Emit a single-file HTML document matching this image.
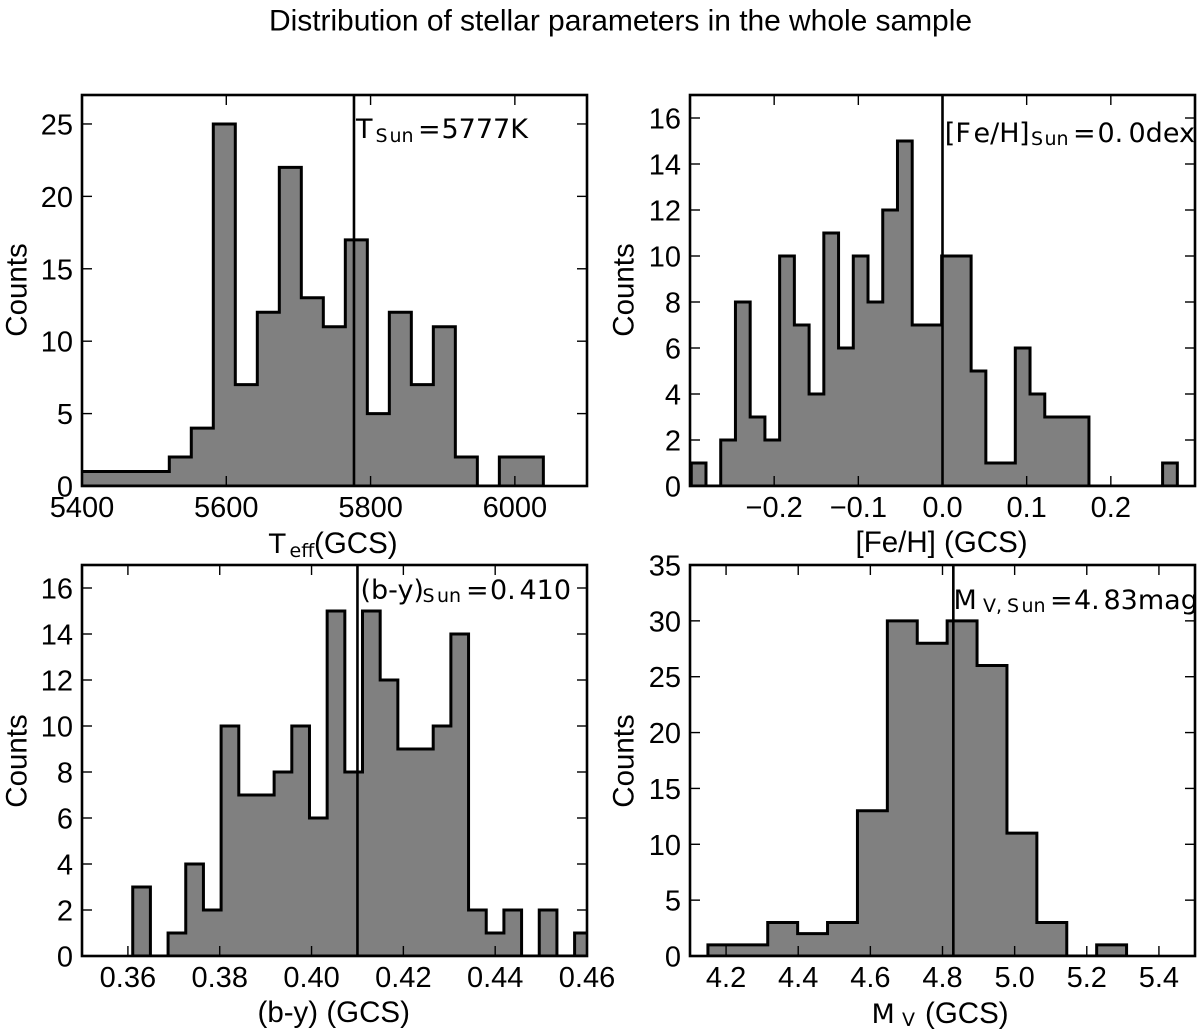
<!DOCTYPE html>
<html lang="en">
<head>
<meta charset="utf-8">
<title>Distribution of stellar parameters in the whole sample</title>
<style>
html,body{margin:0;padding:0;background:#fff;}
svg{display:block;}
text{fill:#000;font-family:"Liberation Sans",sans-serif;}
.lbl{font-size:29.5px;}
.tick{font-size:29px;}
.m{font-family:"DejaVu Sans",sans-serif;font-size:27px;}
.s{font-family:"DejaVu Sans",sans-serif;font-size:19px;}
</style>
</head>
<body>
<svg id="chart" xmlns="http://www.w3.org/2000/svg" width="1200" height="1032" viewBox="0 0 1200 1032">
  <rect x="0" y="0" width="1200" height="1032" fill="#fff"/>
  <text x="620.5" y="30.5" text-anchor="middle" font-size="30" textLength="703" lengthAdjust="spacing">Distribution of stellar parameters in the whole sample</text>
  <g id="marks"></g>

  <text class="lbl" transform="translate(26.5,290) rotate(-90)" text-anchor="middle">Counts</text>
  <text class="lbl" transform="translate(633.5,290) rotate(-90)" text-anchor="middle">Counts</text>
  <text class="lbl" transform="translate(26.5,761) rotate(-90)" text-anchor="middle">Counts</text>
  <text class="lbl" transform="translate(633.5,761) rotate(-90)" text-anchor="middle">Counts</text>

  <text><tspan class="m" x="269" y="553">T</tspan><tspan class="s" x="289.5" y="557">eff</tspan><tspan class="lbl" x="314" y="553">(GCS)</tspan></text>
  <text class="lbl" x="855.5" y="552">[Fe/H] (GCS)</text>
  <text class="lbl" x="257.5" y="1022">(b-y) (GCS)</text>
  <text><tspan class="m" x="871.5" y="1023">M</tspan><tspan class="s" x="902" y="1026">V</tspan><tspan class="lbl" x="925" y="1023">(GCS)</tspan></text>

  <text><tspan class="m" x="356" y="138">T</tspan><tspan class="s" x="375.5" y="142">S</tspan><tspan class="s" x="389.5" y="142">un</tspan><tspan class="m" x="418" y="138">=</tspan><tspan class="m" x="441.5" y="138">5777K</tspan></text>
  <text><tspan class="m" x="944.7" y="142">[</tspan><tspan class="m" x="955.4" y="142">F</tspan><tspan class="m" x="973.5" y="142">e/H</tspan><tspan class="m" x="1019" y="142">]</tspan><tspan class="s" x="1031" y="145">S</tspan><tspan class="s" x="1044.5" y="145">un</tspan><tspan class="m" x="1073" y="142">=</tspan><tspan class="m" x="1097.5" y="142">0.</tspan><tspan class="m" x="1128.5" y="142">0dex</tspan></text>
  <text><tspan class="m" x="360.5" y="599">(b-y)</tspan><tspan class="s" x="422.5" y="602">S</tspan><tspan class="s" x="437" y="602">un</tspan><tspan class="m" x="466" y="599">=</tspan><tspan class="m" x="490" y="599">0.</tspan><tspan class="m" x="519.5" y="599">410</tspan></text>
  <text><tspan class="m" x="953.5" y="609">M</tspan><tspan class="s" x="983" y="612">V,</tspan><tspan class="s" x="1007" y="612">S</tspan><tspan class="s" x="1021.5" y="612">un</tspan><tspan class="m" x="1050" y="609">=</tspan><tspan class="m" x="1074" y="609">4.</tspan><tspan class="m" x="1103.5" y="609">83mag</tspan></text>
</svg>

<script>
var teffCounts = [1,1,1,1,2,4,25,7,12,22,13,11,17,5,12,7,11,2,0,2,2];
var teffBinStart = 5399;
var teffBinWidth = 30.5;
var teffXTicks = ["5400","5600","5800","6000"];
var teffYTicks = ["0","5","10","15","20","25"];
var teffSun = 5777;

var fehCounts = [1,0,2,8,3,2,10,7,4,11,6,10,8,12,15,7,7,10,10,5,1,1,6,4,3,3,3,0,0,0,0,0,1];
var fehBinStart = -0.2985;
var fehBinWidth = 0.0175;
var fehXTicks = ["-0.2","-0.1","0.0","0.1","0.2"];
var fehYTicks = ["0","2","4","6","8","10","12","14","16"];
var fehSun = 0.0;

var byCounts = [3,0,1,4,2,10,7,7,8,10,6,15,8,15,12,9,9,10,14,2,1,2,0,2,0,1];
var byBinStart = 0.36105;
var byBinWidth = 0.00385;
var byXTicks = ["0.36","0.38","0.40","0.42","0.44","0.46"];
var byYTicks = ["0","2","4","6","8","10","12","14","16"];
var bySun = 0.410;

var mvCounts = [1,1,3,2,3,13,30,28,30,26,11,3,0,1];
var mvBinStart = 4.1497;
var mvBinWidth = 0.0829;
var mvXTicks = ["4.2","4.4","4.6","4.8","5.0","5.2","5.4"];
var mvYTicks = ["0","5","10","15","20","25","30","35"];
var mvSun = 4.83;

var NS = "http://www.w3.org/2000/svg";
var root = document.getElementById("marks");

function drawPanel(key, box, xMin, xMax, yMax, binStart, binWidth, counts, xTicks, yTicks, sun) {
  var left = box[0], top = box[1], right = box[2], bottom = box[3];
  function xScale(v) { return left + (v - xMin) / (xMax - xMin) * (right - left); }
  function yScale(v) { return bottom - v / yMax * (bottom - top); }

  var g = document.createElementNS(NS, "g");
  
  
  root.appendChild(g);

  var clip = document.createElementNS(NS, "clipPath");
  clip.setAttribute("id", "clip-" + key);
  var clipRect = document.createElementNS(NS, "rect");
  clipRect.setAttribute("x", left);
  clipRect.setAttribute("y", top);
  clipRect.setAttribute("width", right - left);
  clipRect.setAttribute("height", bottom - top);
  clip.appendChild(clipRect);
  g.appendChild(clip);

  var d = "M" + xScale(binStart) + " " + yScale(0);
  for (var i = 0; i < counts.length; i++) {
    var x0 = xScale(binStart + i * binWidth);
    var x1 = xScale(binStart + (i + 1) * binWidth);
    var y = yScale(counts[i]);
    d += " L" + x0 + " " + y + " L" + x1 + " " + y;
  }
  d += " L" + xScale(binStart + counts.length * binWidth) + " " + yScale(0) + " Z";
  var hist = document.createElementNS(NS, "path");
  
  
  hist.setAttribute("d", d);
  hist.setAttribute("fill", "#808080");
  hist.setAttribute("stroke", "#000");
  hist.setAttribute("stroke-width", "3");
  hist.setAttribute("stroke-linejoin", "miter");
  hist.setAttribute("clip-path", "url(#clip-" + key + ")");
  g.appendChild(hist);

  xTicks.forEach(function (label) {
    var v = parseFloat(label);
    var px = xScale(v);
    [[bottom, bottom - 10], [top, top + 10]].forEach(function (p) {
      var t = document.createElementNS(NS, "line");
      
      
      t.setAttribute("x1", px);
      t.setAttribute("x2", px);
      t.setAttribute("y1", p[0]);
      t.setAttribute("y2", p[1]);
      t.setAttribute("stroke", "#000");
      t.setAttribute("stroke-width", "1.4");
      g.appendChild(t);
    });
    var tx = document.createElementNS(NS, "text");
    
    
    tx.setAttribute("class", "tick");
    tx.setAttribute("x", px);
    tx.setAttribute("y", bottom + 31);
    tx.setAttribute("text-anchor", "middle");
    tx.textContent = label.replace("-", "\u2212");
    g.appendChild(tx);
  });

  yTicks.forEach(function (label) {
    var py = yScale(parseFloat(label));
    [[left, left + 10], [right, right - 10]].forEach(function (p) {
      var t = document.createElementNS(NS, "line");
      
      
      t.setAttribute("x1", p[0]);
      t.setAttribute("x2", p[1]);
      t.setAttribute("y1", py);
      t.setAttribute("y2", py);
      t.setAttribute("stroke", "#000");
      t.setAttribute("stroke-width", "1.4");
      g.appendChild(t);
    });
    var ty = document.createElementNS(NS, "text");
    
    
    ty.setAttribute("class", "tick");
    ty.setAttribute("x", left - 9);
    ty.setAttribute("y", py + 10.5);
    ty.setAttribute("text-anchor", "end");
    ty.textContent = label;
    g.appendChild(ty);
  });

  var sunLine = document.createElementNS(NS, "line");
  
  
  sunLine.setAttribute("x1", xScale(sun));
  sunLine.setAttribute("x2", xScale(sun));
  sunLine.setAttribute("y1", top);
  sunLine.setAttribute("y2", bottom);
  sunLine.setAttribute("stroke", "#000");
  sunLine.setAttribute("stroke-width", "2.6");
  g.appendChild(sunLine);

  var frame = document.createElementNS(NS, "rect");
  
  
  frame.setAttribute("x", left);
  frame.setAttribute("y", top);
  frame.setAttribute("width", right - left);
  frame.setAttribute("height", bottom - top);
  frame.setAttribute("fill", "none");
  frame.setAttribute("stroke", "#000");
  frame.setAttribute("stroke-width", "2.6");
  g.appendChild(frame);
}

drawPanel("teff", [82, 95, 587, 486], 5400, 6100, 27, teffBinStart, teffBinWidth, teffCounts, teffXTicks, teffYTicks, teffSun);
drawPanel("feh", [690, 95, 1195, 486], -0.3, 0.3, 17, fehBinStart, fehBinWidth, fehCounts, fehXTicks, fehYTicks, fehSun);
drawPanel("by", [82, 565, 587, 956], 0.35, 0.46, 17, byBinStart, byBinWidth, byCounts, byXTicks, byYTicks, bySun);
drawPanel("mv", [690, 565, 1195, 956], 4.1, 5.5, 35, mvBinStart, mvBinWidth, mvCounts, mvXTicks, mvYTicks, mvSun);
</script>
</body>
</html>
